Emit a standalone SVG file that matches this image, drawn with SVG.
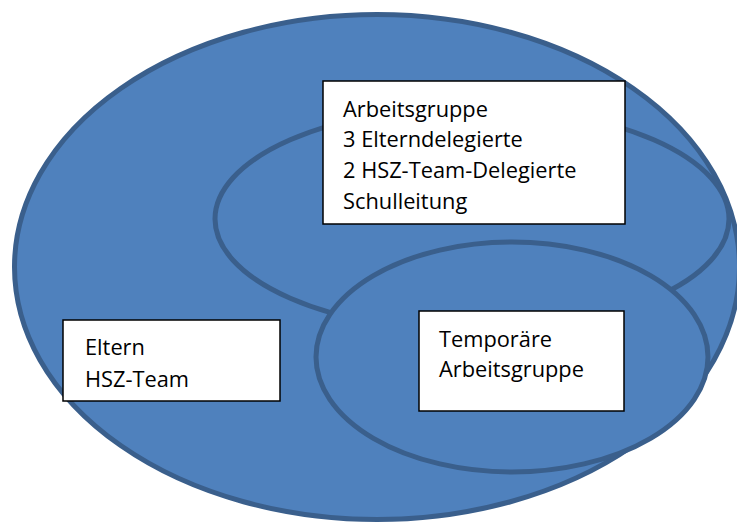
<svg xmlns="http://www.w3.org/2000/svg" width="737" height="522" viewBox="0 0 737 522">
<style>
.set{fill:#4F81BD;stroke:#3A5F8C;stroke-width:5}
.box{fill:#FFFFFF;stroke:#000000;stroke-width:1.5}
.t{font-family:"Open Sans","Noto Sans","Liberation Sans",sans-serif;font-size:21.8px;fill:#000000}
</style>
<rect width="737" height="522" fill="#FFFFFF"/>
<g id="outer">
<ellipse class="set" cx="377" cy="267" rx="362.5" ry="252.5"/>
</g>
<g id="arbeitsgruppe-set">
<ellipse class="set" cx="472" cy="219" rx="257" ry="112"/>
</g>
<g id="temp-set">
<ellipse class="set" cx="512" cy="357" rx="196" ry="115"/>
</g>
<g id="connectors"></g>
<g id="arbeitsgruppe">
<rect class="box" x="323" y="81" width="302" height="143"/>
<text class="t" x="343" y="117">Arbeitsgruppe</text>
<text class="t" x="343" y="147">3 Elterndelegierte</text>
<text class="t" x="343" y="178">2 HSZ-Team-Delegierte</text>
<text class="t" x="343" y="209">Schulleitung</text>
</g>
<g id="eltern">
<rect class="box" x="63" y="320" width="217" height="81"/>
<text class="t" x="85" y="355">Eltern</text>
<text class="t" x="85" y="387">HSZ-Team</text>
</g>
<g id="temporaer">
<rect class="box" x="419" y="311" width="205" height="100"/>
<text class="t" x="439" y="347">Temporäre</text>
<text class="t" x="439" y="377">Arbeitsgruppe</text>
</g>
</svg>
